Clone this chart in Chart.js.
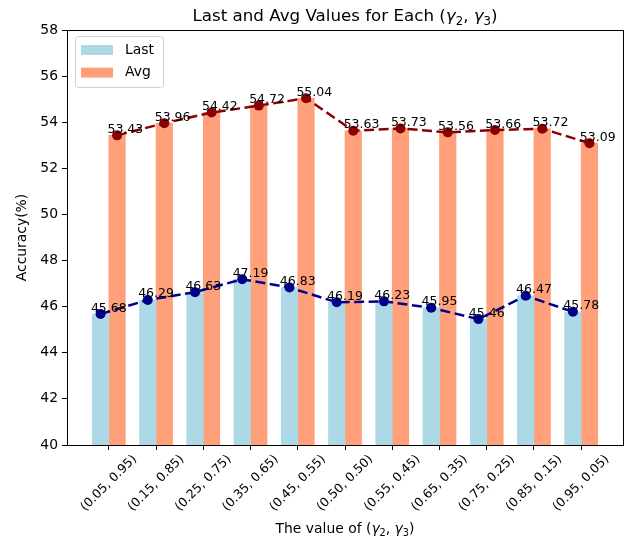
<!DOCTYPE html>
<html>
<head>
<meta charset="utf-8">
<script src="https://cdn.jsdelivr.net/npm/chart.js@4.4.0/dist/chart.umd.min.js"></script>
<style>
  html, body { margin: 0; padding: 0; background: #fff; }
</style>
</head>
<body>
<canvas id="myChart" width="632" height="542"></canvas>
<script>
const categories = ['(0.05, 0.95)', '(0.15, 0.85)', '(0.25, 0.75)', '(0.35, 0.65)', '(0.45, 0.55)',
  '(0.50, 0.50)', '(0.55, 0.45)', '(0.65, 0.35)', '(0.75, 0.25)', '(0.85, 0.15)', '(0.95, 0.05)'];
const lastValues = [45.68, 46.29, 46.63, 47.19, 46.83, 46.19, 46.23, 45.95, 45.46, 46.47, 45.78];
const avgValues = [53.43, 53.96, 54.42, 54.72, 55.04, 53.63, 53.73, 53.56, 53.66, 53.72, 53.09];
const yTicks = [40, 42, 44, 46, 48, 50, 52, 54, 56, 58];
const barWidth = 0.35;

const FONT = "'DejaVu Sans', sans-serif";

let lastPts = lastValues.map((v, i) => ({ x: i - barWidth / 2, y: v }));
let avgPts = avgValues.map((v, i) => ({ x: i + barWidth / 2, y: v }));

// draws text made of pieces: [text, italic, subscript]
let drawPieces = (ctx, pieces, cx, cy, size) => {
  let fontFor = (p) => (p[1] ? 'italic ' : '') + (p[2] ? size * 0.7 : size) + 'px ' + FONT;
  let total = 0;
  pieces.forEach((p) => { ctx.font = fontFor(p); total += ctx.measureText(p[0]).width; });
  let x = cx - total / 2;
  ctx.textAlign = 'left';
  ctx.textBaseline = 'alphabetic';
  pieces.forEach((p) => {
    ctx.font = fontFor(p);
    ctx.fillText(p[0], x, cy + (p[2] ? size * 0.22 : 0));
    x += ctx.measureText(p[0]).width;
  });
};

const extras = {
  id: 'extras',
  afterDatasetsDraw(chart) {
    const ctx = chart.ctx;
    const xs = chart.scales.x, ys = chart.scales.y;
    ctx.save();
    ctx.fillStyle = '#000';
    ctx.font = '12.5px ' + FONT;
    ctx.textAlign = 'center';
    ctx.textBaseline = 'alphabetic';
    lastValues.forEach((v, i) => {
      ctx.fillText(v.toFixed(2), xs.getPixelForValue(i), ys.getPixelForValue(v) - 2.5);
    });
    avgValues.forEach((v, i) => {
      ctx.fillText(v.toFixed(2), xs.getPixelForValue(i + barWidth), ys.getPixelForValue(v) - 2.5);
    });
    ctx.restore();
  },
  afterDraw(chart) {
    const ctx = chart.ctx;
    const a = chart.chartArea;
    ctx.save();
    // box spines
    ctx.strokeStyle = '#000';
    ctx.lineWidth = 1;
    ctx.strokeRect(Math.round(a.left) + 0.5, Math.round(a.top) + 0.5,
      Math.round(a.right - a.left), Math.round(a.bottom - a.top));

    // legend
    const lx = a.left + 8, ly = a.top + 6, lw = 88, lh = 51;
    ctx.beginPath();
    ctx.roundRect(lx + 0.5, ly + 0.5, lw, lh, 3);
    ctx.fillStyle = 'rgba(255,255,255,0.8)';
    ctx.fill();
    ctx.strokeStyle = '#d0d0d0';
    ctx.stroke();
    const items = chart.data.datasets.filter((d) => d.type === 'bar');
    items.forEach((d, k) => {
      const cy = ly + 14 + k * 22.6;
      ctx.fillStyle = d.backgroundColor;
      ctx.fillRect(lx + 6, cy - 5, 32, 10);
      ctx.fillStyle = '#000';
      ctx.font = '13.9px ' + FONT;
      ctx.textAlign = 'left';
      ctx.textBaseline = 'middle';
      ctx.fillText(d.label, lx + 50, cy);
    });

    // titles
    ctx.fillStyle = '#000';
    const mid = (a.left + a.right) / 2;
    drawPieces(ctx, [['Last and Avg Values for Each (', false, false], ['γ', true, false], ['2', false, true],
      [', ', false, false], ['γ', true, false], ['3', false, true], [')', false, false]], mid, 21, 16.7);
    drawPieces(ctx, [['The value of (', false, false], ['γ', true, false], ['2', false, true],
      [', ', false, false], ['γ', true, false], ['3', false, true], [')', false, false]], mid, 533, 13.9);
    ctx.translate(22, (a.top + a.bottom) / 2);
    ctx.rotate(-Math.PI / 2);
    ctx.font = '13.9px ' + FONT;
    ctx.textAlign = 'center';
    ctx.textBaseline = 'middle';
    ctx.fillText('Accuracy(%)', 0, 0);
    ctx.restore();
  }
};

let ctx = document.getElementById('myChart').getContext('2d');
let chart = new Chart(ctx, {
  data: {
    datasets: [
      { type: 'line', label: 'Last line', data: lastPts, borderColor: '#00008b', backgroundColor: '#00008b',
        borderWidth: 2.5, borderDash: [10, 4.5], pointRadius: 5, pointBorderWidth: 0, order: 0 },
      { type: 'line', label: 'Avg line', data: avgPts, borderColor: '#8b0000', backgroundColor: '#8b0000',
        borderWidth: 2.5, borderDash: [10, 4.5], pointRadius: 5, pointBorderWidth: 0, order: 0 },
      { type: 'bar', label: 'Last', data: lastPts, backgroundColor: '#add8e6', grouped: false,
        barPercentage: 1, categoryPercentage: 1, order: 1 },
      { type: 'bar', label: 'Avg', data: avgPts, backgroundColor: '#ffa07a', grouped: false,
        barPercentage: 1, categoryPercentage: 1, order: 1 }
    ]
  },
  options: {
    responsive: false,
    animation: false,
    devicePixelRatio: 1,
    layout: { padding: { left: 0, right: 9, top: 30, bottom: 0 } },
    plugins: { legend: { display: false }, title: { display: false }, tooltip: { enabled: false } },
    scales: {
      x: {
        type: 'linear',
        offset: false,
        min: -barWidth - 0.535,
        max: categories.length - 1 + barWidth + 0.535,
        afterBuildTicks: (s) => { s.ticks = categories.map((c, i) => ({ value: i })); },
        afterFit: (s) => { s.height = 97; },
        grid: { offset: false, drawOnChartArea: false, drawTicks: true, tickLength: 5, tickColor: '#000' },
        border: { display: true, color: '#000', width: 1 },
        ticks: {
          autoSkip: false, minRotation: 45, maxRotation: 45, labelOffset: 26, padding: 2,
          color: '#000', font: { family: FONT, size: 12.5 },
          callback: (v) => categories[v]
        }
      },
      y: {
        min: yTicks[0],
        max: yTicks[yTicks.length - 1],
        afterBuildTicks: (s) => { s.ticks = yTicks.map((v) => ({ value: v })); },
        afterFit: (s) => { s.width = 67; },
        grid: { drawOnChartArea: false, drawTicks: true, tickLength: 5, tickColor: '#000' },
        border: { display: true, color: '#000', width: 1 },
        ticks: { color: '#000', padding: 4, font: { family: FONT, size: 13.9 } }
      }
    }
  },
  plugins: [extras]
});
</script>
</body>
</html>
